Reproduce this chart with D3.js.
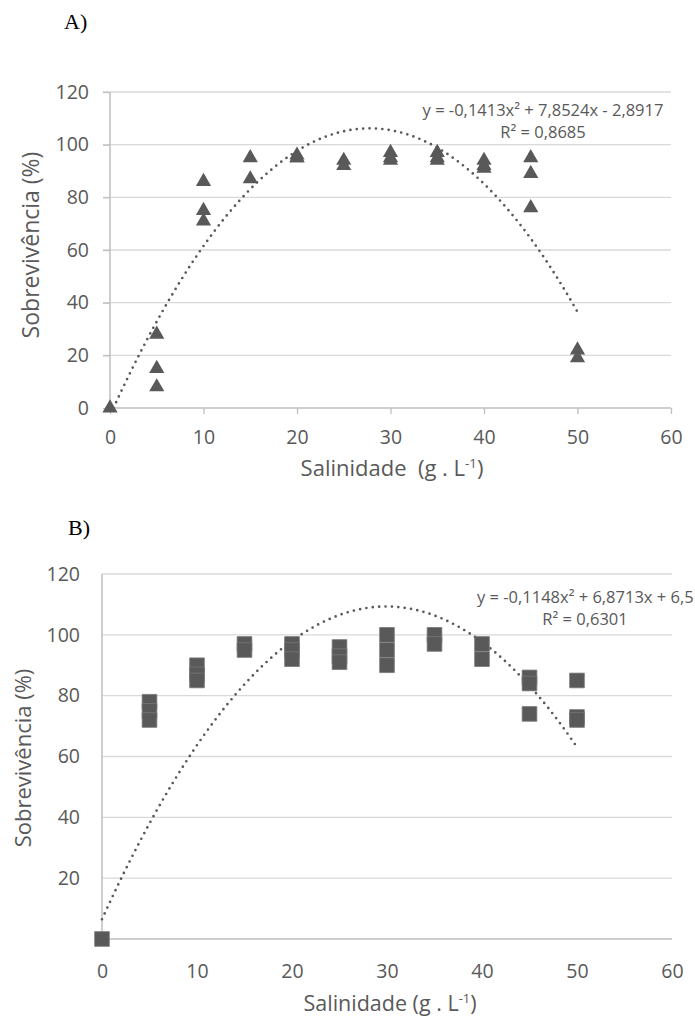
<!DOCTYPE html>
<html><head><meta charset="utf-8">
<script src="https://cdn.jsdelivr.net/npm/d3@7"></script>
<style>
body{margin:0;background:#fff;}
svg text{font-family:"Open Sans",Lato,sans-serif;fill:#595959;white-space:pre;}
</style></head>
<body>
<svg id="chart" width="695" height="1024"></svg>
<script>
// ---------- DATA ----------
const xTicks = [0,10,20,30,40,50,60];
const yTicksA = [0,20,40,60,80,100,120];
const yTicksB = [20,40,60,80,100,120];

// Panel A (triangles) salinity, survival
const salA = [0, 5,5,5, 10,10,10, 15,15, 20,20,20, 25,25, 30,30,30, 35,35,35, 40,40,40, 45,45,45, 50,50];
const survA = [0, 28,15,8, 86,75,71, 95,87, 96,95,95, 94,92, 97,95,94, 97,95,94, 94,92,91, 95,89,76, 22,19];
const coefA = [-0.1413, 7.8524, -2.8917];
const eqA = ["y = -0,1413x² + 7,8524x - 2,8917", "R² = 0,8685"];

// Panel B (squares)
const salB = [0, 5,5,5, 10,10,10, 15,15, 20,20,20, 25,25,25, 30,30,30, 35,35, 40,40, 45,45,45, 50,50,50];
const survB = [0, 78,75,72, 90,87,85, 97,95, 97,95,92, 96,93,91, 100,95,90, 100,97, 97,92, 86,84,74, 85,73,72];
const coefB = [-0.1148, 6.8713, 6.5];
const eqB = ["y = -0,1148x² + 6,8713x + 6,5", "R² = 0,6301"];

const svg = d3.select("#chart");
const gridCol = "#d9d9d9", axisCol = "#bfbfbf", markCol = "#595959";

function trend(c, x0, x1){
  const pts = [];
  for(let i=0;i<=200;i++){ const x = x0 + (x1-x0)*i/200; pts.push([x, c[0]*x*x + c[1]*x + c[2]]); }
  return pts;
}

function panel(o){
  const g = svg.append("g");
  const x = d3.scaleLinear().domain([0,60]).range([o.x0,o.x1]);
  const y = d3.scaleLinear().domain([0,120]).range([o.y0,o.y1]);
  g.selectAll(".grid").data(o.yTicks.filter(d=>d>0)).join("line")
    .attr("x1",o.x0 - (o.tick?7:0)).attr("x2",o.x1).attr("y1",d=>y(d)).attr("y2",d=>y(d))
    .attr("stroke",gridCol).attr("stroke-width",1.3);
  const ya = d3.axisLeft(y).tickValues(o.yTicks).tickSize(o.tick?7:0).tickPadding(o.tick?14:22);
  const yg = g.append("g").attr("transform",`translate(${o.x0},0)`).call(ya);
  yg.select(".domain").attr("stroke",axisCol).attr("stroke-width",1.5).attr("d",`M0,${o.y0}V${o.y1}`);
  yg.selectAll(".tick line").attr("stroke",axisCol).attr("stroke-width",1.3);
  yg.selectAll("text").attr("font-size",o.tickSize).style("font-family","Open Sans");
  const xa = d3.axisBottom(x).tickValues(xTicks).tickSize(o.tick?6:0).tickPadding(o.xPad);
  const xg = g.append("g").attr("transform",`translate(0,${o.y0})`).call(xa);
  xg.select(".domain").attr("stroke",axisCol).attr("stroke-width",1.5).attr("d",`M${o.x0},0H${o.x1}`);
  xg.selectAll(".tick line").attr("stroke",axisCol).attr("stroke-width",1.3);
  xg.selectAll("text").attr("font-size",o.tickSize).style("font-family","Open Sans");
  const line = d3.line().x(d=>x(d[0])).y(d=>y(d[1]));
  g.append("path").datum(trend(o.coef, o.trendStart, 50)).attr("d",line)
    .attr("fill","none").attr("stroke","#595959").attr("stroke-width",2.7)
    .attr("stroke-linecap","round").attr("stroke-dasharray","0,6.4");
  const sym = d3.symbol().type(o.symbol).size(o.symSize);
  g.selectAll(".pt").data(o.sal).join("path")
    .attr("d",sym).attr("transform",(d,i)=>`translate(${x(d)},${y(o.surv[i])})`)
    .attr("fill",markCol).attr("stroke",o.symStroke).attr("stroke-width",0.8);
  g.append("text").attr("x",o.eqX).attr("y",o.eqY).attr("text-anchor",o.eqAnchor)
    .attr("font-size",o.eqSize).text(o.eq[0]);
  g.append("text").attr("x",o.r2X).attr("y",o.eqY+22).attr("text-anchor","middle")
    .attr("font-size",o.eqSize).text(o.eq[1]);
  g.append("text").attr("transform",`translate(${o.ytX},${o.ytY}) rotate(-90)`)
    .attr("text-anchor","middle").attr("dominant-baseline","central").attr("font-size",o.yTitleSize)
    .text("Sobrevivência (%)");
  const xt = g.append("text").attr("x",o.xtX).attr("y",o.xtY).attr("text-anchor","middle")
    .attr("font-size",o.titleSize);
  xt.append("tspan").text(o.xTitle);
  xt.append("tspan").attr("font-size",o.titleSize*0.6).attr("dy",-8).text("-1");
  xt.append("tspan").attr("dy",8).text(")");
  svg.append("text").attr("x",o.lX).attr("y",o.lY).attr("font-size",22)
    .style("font-family","'Liberation Serif','Times New Roman',serif").style("fill","#000").text(o.letter);
}

panel({x0:110,x1:671,y0:408,y1:92,yTicks:yTicksA,tick:true,xPad:16,tickSize:19.5,
  sal:salA,surv:survA,coef:coefA,trendStart:0.37,symbol:d3.symbolTriangle,symSize:100,symStroke:"none",
  eq:eqA,eqX:543,eqY:116,eqAnchor:"middle",r2X:543,eqSize:16.5,
  ytX:30,ytY:245,yTitleSize:23,xtX:392,xtY:476,titleSize:22,xTitle:"Salinidade  (g . L",
  letter:"A)",lX:64,lY:29});

panel({x0:102,x1:672,y0:939,y1:574,yTicks:yTicksB,tick:false,xPad:25,tickSize:19.5,
  sal:salB,surv:survB,coef:coefB,trendStart:0,symbol:d3.symbolSquare,symSize:215,symStroke:"#777",
  eq:eqB,eqX:477,eqY:603,eqAnchor:"start",r2X:585,eqSize:16.5,
  ytX:22,ytY:758,yTitleSize:22,xtX:390,xtY:1011,titleSize:21.5,xTitle:"Salinidade (g . L",
  letter:"B)",lX:68,lY:535});
</script>
</body></html>
